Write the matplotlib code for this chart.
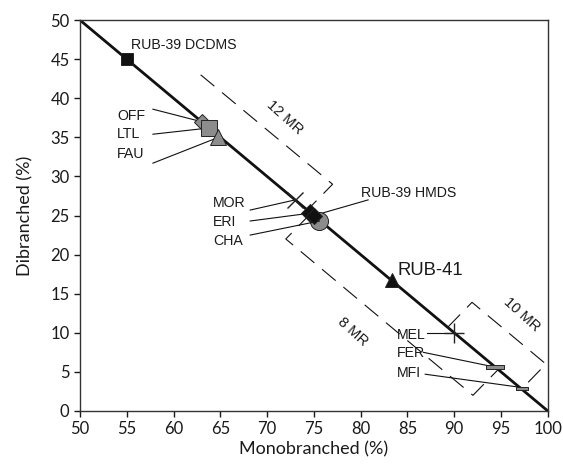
import numpy as np
import matplotlib.pyplot as plt

plt.rcParams['font.family'] = ['Lato', 'DejaVu Sans']

# zeolite points (monobranched %, dibranched %)
names = ["RUB-39 DCDMS", "OFF", "LTL", "FAU", "MOR", "ERI", "RUB-39 HMDS", "CHA",
         "RUB-41", "MEL", "FER", "MFI"]
mono = [55.0, 63.0, 63.8, 64.8, 73.0, 74.6, 75.0, 75.6, 83.3, 90.0, 94.4, 97.2]
di = [45.0, 37.0, 36.2, 35.0, 27.0, 25.3, 25.0, 24.3, 16.7, 10.0, 5.6, 3.0]

# bracket outlines for the channel groups (x list, y list)
br_12 = ([62.9, 77.0, 74.3], [43.0, 29.0, 25.7])
br_8 = ([74.7, 72.0, 92.0, 94.7], [25.3, 22.0, 2.0, 5.3])
br_10 = ([89.3, 91.9, 99.8, 97.2], [10.7, 13.9, 6.0, 2.8])

# label text positions and leader line end points
lab_x = [55.5, 54.0, 54.0, 54.0, 64.2, 64.2, 80.0, 64.2, 83.9, 83.9, 83.9, 83.9]
lab_y = [46.8, 37.7, 35.4, 32.9, 26.6, 24.2, 27.9, 21.8, 18.0, 9.7, 7.4, 4.9]
line_from = [None, (57.8, 38.6), (57.8, 35.4), (57.8, 31.7), (68.2, 25.7), (68.2, 24.3),
             (80.8, 27.0), (68.2, 22.5), None, (87.1, 10.0), (86.7, 7.5), (86.9, 4.7)]

grey = '#8c8c8c'
bar = [(-2.5, -0.6), (2.5, -0.6), (2.5, 0.6), (-2.5, 0.6), (-2.5, -0.6)]
styles = [
    dict(marker='s', ms=9, mfc='#111111'),
    dict(marker='D', ms=8, mfc=grey),
    dict(marker='s', ms=12, mfc=grey),
    dict(marker='^', ms=11, mfc=grey),
    dict(marker='x', ms=11, mew=1.0, mfc='none'),
    dict(marker='D', ms=9, mfc='#111111'),
    dict(marker='D', ms=8, mfc='#111111'),
    dict(marker='o', ms=13, mfc=grey),
    dict(marker='^', ms=10, mfc='#111111'),
    dict(marker='+', ms=15, mew=1.0, mfc='none'),
    dict(marker=bar, ms=13, mfc=grey),
    dict(marker=bar, ms=9, mfc=grey),
]

fig, ax = plt.subplots(figsize=(5.63, 4.67), dpi=100)
fig.subplots_adjust(left=0.142, right=0.973, top=0.957, bottom=0.12)

# the 100 % line
ax.plot([50, 100], [50, 0], color='#111111', lw=2.0, zorder=2)

for bx, by in [br_12, br_8, br_10]:
    ln, = ax.plot(bx, by, color='#111111', lw=0.8, clip_on=False, zorder=1)
    ln.set_dashes((16, 9))

for i in range(len(names)):
    st = dict(styles[i])
    ax.plot(mono[i], di[i], linestyle='none', mec='#222222', zorder=4 if i != 7 else 3,
            mew=st.pop('mew', 0.7), **st)
    if line_from[i] is not None:
        ax.plot([line_from[i][0], mono[i]], [line_from[i][1], di[i]], color='#111111',
                lw=0.8, zorder=3)
    fs = 13.3 if names[i] == "RUB-41" else 10.2
    ax.text(lab_x[i], lab_y[i], names[i], fontsize=fs, ha='left', va='center',
            family=['Liberation Sans', 'DejaVu Sans'], color='#1a1a1a')

for txt, x, y in [("12 MR", 71.9, 37.5), ("8 MR", 79.2, 10.1), ("10 MR", 97.2, 12.3)]:
    ax.text(x, y, txt, fontsize=10.5, rotation=-42, rotation_mode='anchor', ha='center',
            va='center', family=['Liberation Sans', 'DejaVu Sans'], color='#1a1a1a')

ax.set_xlim(50, 100)
ax.set_ylim(0, 50)
ax.set_xticks(np.arange(50, 101, 5))
ax.set_yticks(np.arange(0, 51, 5))
ax.tick_params(direction='out', length=4, width=1, labelsize=12, colors='#1a1a1a')
for s in ax.spines.values():
    s.set_linewidth(1.0)
    s.set_color('#333333')
ax.set_xlabel("Monobranched (%)", fontsize=13, color='#1a1a1a', labelpad=3)
ax.set_ylabel("Dibranched (%)", fontsize=13, color='#1a1a1a', labelpad=12)

fig.savefig('out.png', dpi=100)
